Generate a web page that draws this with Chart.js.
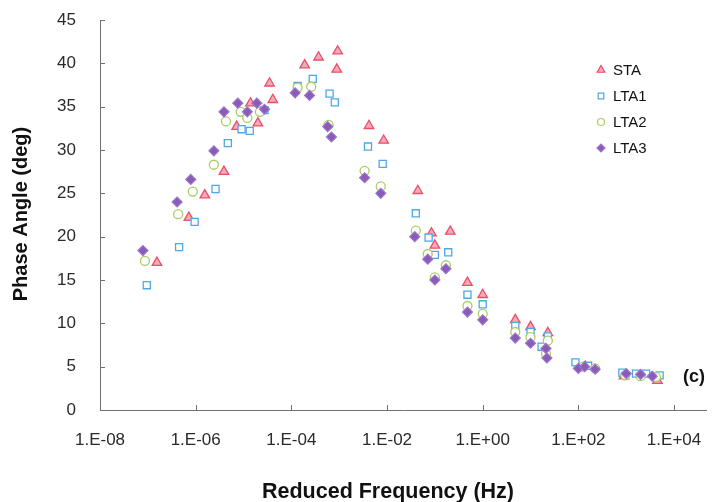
<!DOCTYPE html>
<html><head><meta charset="utf-8">
<script src="https://cdn.jsdelivr.net/npm/chart.js@4/dist/chart.umd.min.js"></script>
<style>html,body{margin:0;padding:0;background:#fff}#wrap{width:713px;height:502px}</style>
</head><body><div id="wrap"><canvas id="c" width="713" height="502"></canvas></div>
<script>
// ---- data (reduced frequency in Hz, phase angle in deg) ----
const seriesNames = ['STA', 'LTA1', 'LTA2', 'LTA3'];

const staFreq  = [1.55e-7, 7.2e-7, 1.55e-6, 3.9e-6, 7.2e-6, 1.4e-5, 2.0e-5, 3.5e-5, 4.1e-5, 1.9e-4, 3.7e-4, 8.9e-4, 9.3e-4, 4.2e-3, 8.5e-3, 4.4e-2, 8.5e-2, 1.0e-1, 2.1e-1, 4.8e-1, 1.0, 4.8, 10, 23, 140, 900, 4500];
const staPhase = [17.0, 22.2, 24.8, 27.5, 32.7, 35.4, 33.1, 37.7, 35.8, 39.8, 40.7, 39.3, 41.4, 32.8, 31.1, 25.3, 20.4, 19.0, 20.6, 14.7, 13.3, 10.4, 9.6, 8.9, 5.0, 3.9, 3.4];

const lta1Freq  = [9.5e-8, 4.5e-7, 9.5e-7, 2.6e-6, 4.7e-6, 9.1e-6, 1.35e-5, 2.75e-5, 1.35e-4, 2.8e-4, 6.3e-4, 8.1e-4, 4.0e-3, 8.1e-3, 4.0e-2, 7.4e-2, 1.0e-1, 1.9e-1, 4.8e-1, 1.0, 4.8, 10, 17, 23, 87, 160, 830, 1600, 2600, 5000];
const lta1Phase = [14.4, 18.8, 21.7, 25.5, 30.8, 32.4, 32.2, 34.6, 37.4, 38.2, 36.5, 35.5, 30.4, 28.4, 22.7, 19.9, 17.9, 18.2, 13.3, 12.2, 9.7, 9.0, 7.3, 8.5, 5.5, 5.1, 4.3, 4.2, 4.2, 4.0];

const lta2Freq  = [8.7e-8, 4.3e-7, 8.7e-7, 2.4e-6, 4.3e-6, 8.7e-6, 1.2e-5, 2.2e-5, 1.35e-4, 2.6e-4, 6.0e-4, 3.4e-3, 7.4e-3, 4.0e-2, 7.1e-2, 1.0e-1, 1.7e-1, 4.8e-1, 1.0, 4.8, 10, 21, 23, 126, 224, 955, 2000, 4200];
const lta2Phase = [17.2, 22.6, 25.2, 28.3, 33.3, 34.4, 33.7, 34.4, 37.2, 37.3, 32.9, 27.6, 25.8, 20.7, 18.0, 15.3, 16.7, 12.0, 11.1, 9.0, 8.4, 6.5, 8.0, 5.0, 4.8, 4.0, 3.9, 3.8];

const lta3Freq  = [7.9e-8, 4.1e-7, 7.9e-7, 2.4e-6, 3.9e-6, 7.6e-6, 1.2e-5, 1.9e-5, 2.75e-5, 1.2e-4, 2.4e-4, 5.75e-4, 6.9e-4, 3.4e-3, 7.4e-3, 3.8e-2, 7.1e-2, 1.0e-1, 1.7e-1, 4.8e-1, 1.0, 4.8, 10, 21, 22, 100, 135, 224, 1000, 2000, 3500];
const lta3Phase = [18.4, 24.0, 26.6, 29.9, 34.4, 35.4, 34.4, 35.4, 34.7, 36.6, 36.3, 32.7, 31.5, 26.8, 25.0, 20.0, 17.4, 15.0, 16.3, 11.3, 10.4, 8.3, 7.7, 7.1, 6.0, 4.8, 5.0, 4.7, 4.2, 4.1, 3.9];

const xTickValues = [1e-8, 1e-6, 1e-4, 1e-2, 1, 1e2, 1e4];
const xTickLabels = ['1.E-08', '1.E-06', '1.E-04', '1.E-02', '1.E+00', '1.E+02', '1.E+04'];
const yTickValues = [0, 5, 10, 15, 20, 25, 30, 35, 40, 45];

// ---- chart ----
const pts = (xs, ys) => xs.map((x, i) => ({ x: x, y: ys[i] }));
const styles = [
  { pointStyle: 'triangle', radius: 5.5, borderColor: '#e8506a', backgroundColor: 'rgba(244,140,158,0.75)', borderWidth: 1.3 },
  { pointStyle: 'rect',     radius: 5,   borderColor: '#4da8ea', backgroundColor: 'rgba(255,255,255,0.9)', borderWidth: 1.3 },
  { pointStyle: 'circle',   radius: 4.5, borderColor: '#a9cc63', backgroundColor: 'rgba(255,255,255,0.9)', borderWidth: 1.3 },
  { pointStyle: 'rectRot',  radius: 5,   borderColor: '#9d74cc', backgroundColor: '#8a5cb8', borderWidth: 1.2 }
];
const dataSets = [pts(staFreq, staPhase), pts(lta1Freq, lta1Phase), pts(lta2Freq, lta2Phase), pts(lta3Freq, lta3Phase)];

const datasets = dataSets.map((d, i) => ({
  label: seriesNames[i],
  data: d,
  showLine: false,
  pointStyle: styles[i].pointStyle,
  pointRadius: styles[i].radius,
  pointBorderColor: styles[i].borderColor,
  pointBackgroundColor: styles[i].backgroundColor,
  pointBorderWidth: styles[i].borderWidth,
  order: 4 - i
}));

const AXIS = '#707070';
const FONT = "'Liberation Sans', Arial, sans-serif";

const decor = {
  id: 'decor',
  afterDraw(chart) {
    const ctx = chart.ctx;
    const xs = chart.scales.x, ys = chart.scales.y;
    const a = chart.chartArea;
    ctx.save();
    // inside tick marks
    ctx.strokeStyle = AXIS; ctx.lineWidth = 1;
    ctx.beginPath();
    xTickValues.forEach(v => { const px = Math.round(xs.getPixelForValue(v)) + 0.5; ctx.moveTo(px, a.bottom); ctx.lineTo(px, a.bottom - 5); });
    yTickValues.forEach(v => { const py = Math.round(ys.getPixelForValue(v)) + 0.5; ctx.moveTo(a.left, py); ctx.lineTo(a.left + 5, py); });
    ctx.stroke();
    // legend
    const lx = 601, ly0 = 70, dy = 26;
    ctx.font = "15px " + FONT; ctx.fillStyle = '#111'; ctx.textBaseline = 'middle'; ctx.textAlign = 'left';
    seriesNames.forEach((n, i) => {
      const s = styles[i];
      ctx.fillStyle = s.backgroundColor; ctx.strokeStyle = s.borderColor; ctx.lineWidth = 1.2;
      Chart.helpers.drawPoint(ctx, { pointStyle: s.pointStyle, radius: s.radius - 1, borderWidth: 1.2, rotation: 0 }, lx, ly0 + i * dy);
      ctx.fillStyle = '#111';
      ctx.fillText(n, lx + 12, ly0 + i * dy + 1);
    });
    // panel tag
    ctx.font = "bold 18px " + FONT; ctx.fillStyle = '#111';
    ctx.fillText('(c)', 683, 377);
    // axis titles
    ctx.font = "bold 21.5px " + FONT; ctx.textAlign = 'center';
    ctx.fillText('Reduced Frequency (Hz)', 388, 492);
    ctx.font = "bold 20px " + FONT;
    ctx.translate(21, 214); ctx.rotate(-Math.PI / 2);
    ctx.fillText('Phase Angle (deg)', 0, 0);
    ctx.restore();
  }
};

new Chart(document.getElementById('c'), {
  type: 'scatter',
  data: { datasets },
  options: {
    responsive: false,
    animation: false,
    devicePixelRatio: 1,
    layout: { padding: { left: 0, top: 20, right: 6, bottom: 0 } },
    plugins: { legend: { display: false }, tooltip: { enabled: false } },
    scales: {
      x: {
        type: 'logarithmic',
        min: 1e-8, max: 4.7e4,
        afterBuildTicks: s => { s.ticks = xTickValues.map(v => ({ value: v })); },
        afterFit: s => { s.height = 92; s.paddingLeft = 0; s.paddingRight = 0; },
        ticks: {
          autoSkip: false, maxRotation: 0, padding: 20,
          color: '#2a2a2a', font: { family: FONT, size: 17 },
          callback: v => { const i = xTickValues.indexOf(v); return i >= 0 ? xTickLabels[i] : ''; }
        },
        grid: { display: true, drawOnChartArea: false, drawTicks: false, color: AXIS },
        border: { display: true, color: AXIS, width: 1 }
      },
      y: {
        min: 0, max: 45,
        afterBuildTicks: s => { s.ticks = yTickValues.map(v => ({ value: v })); },
        afterFit: s => { s.width = 100; s.paddingTop = 0; s.paddingBottom = 0; },
        ticks: { padding: 24, color: '#2a2a2a', font: { family: FONT, size: 17 } },
        grid: { display: true, drawOnChartArea: false, drawTicks: false, color: AXIS },
        border: { display: true, color: AXIS, width: 1 }
      }
    }
  },
  plugins: [decor]
});
</script></body></html>
